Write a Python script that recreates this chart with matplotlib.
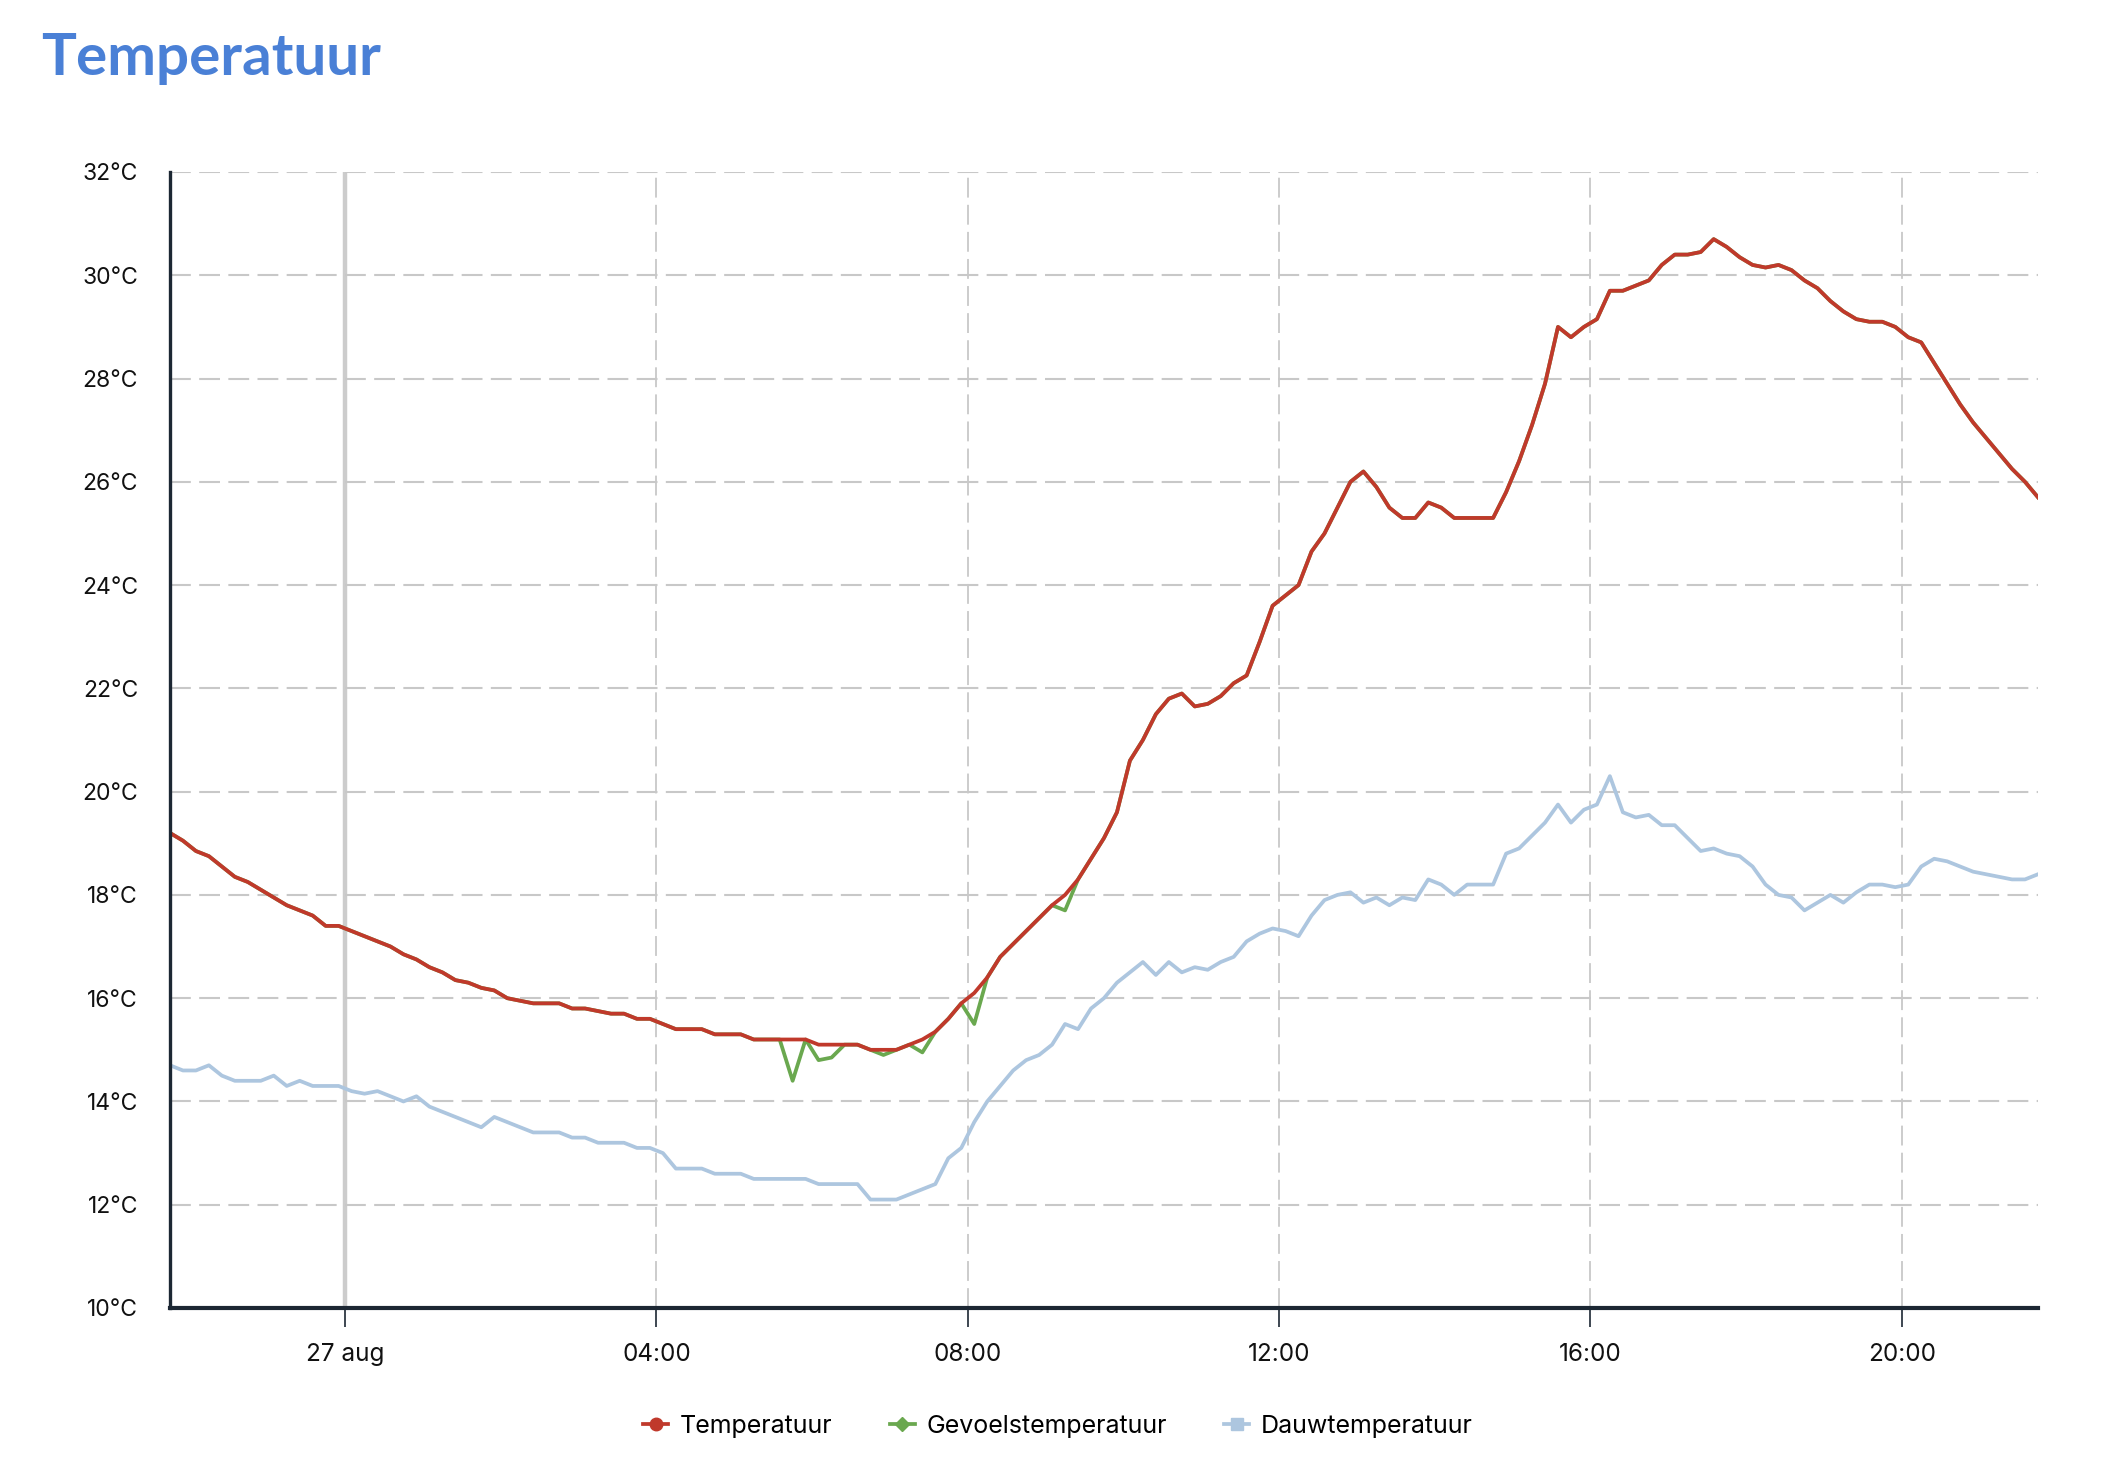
import numpy as np
import pandas as pd
import matplotlib
matplotlib.use("Agg")
import matplotlib.pyplot as plt
from matplotlib.lines import Line2D

# metingen elke 10 minuten, 26 aug 21:45 t/m 27 aug 21:45
start = "2024-08-26 21:45"
temperatuur = [
    19.2, 19.05, 18.85, 18.75, 18.55, 18.35, 18.25, 18.1, 17.95, 17.8,
    17.7, 17.6, 17.4, 17.4, 17.3, 17.2, 17.1, 17.0, 16.85, 16.75,
    16.6, 16.5, 16.35, 16.3, 16.2, 16.15, 16.0, 15.95, 15.9, 15.9,
    15.9, 15.8, 15.8, 15.75, 15.7, 15.7, 15.6, 15.6, 15.5, 15.4,
    15.4, 15.4, 15.3, 15.3, 15.3, 15.2, 15.2, 15.2, 15.2, 15.2,
    15.1, 15.1, 15.1, 15.1, 15.0, 15.0, 15.0, 15.1, 15.2, 15.35,
    15.6, 15.9, 16.1, 16.4, 16.8, 17.05, 17.3, 17.55, 17.8, 18.0,
    18.3, 18.7, 19.1, 19.6, 20.6, 21.0, 21.5, 21.8, 21.9, 21.65,
    21.7, 21.85, 22.1, 22.25, 22.9, 23.6, 23.8, 24.0, 24.65, 25.0,
    25.5, 26.0, 26.2, 25.9, 25.5, 25.3, 25.3, 25.6, 25.5, 25.3,
    25.3, 25.3, 25.3, 25.8, 26.4, 27.1, 27.9, 29.0, 28.8, 29.0,
    29.15, 29.7, 29.7, 29.8, 29.9, 30.2, 30.4, 30.4, 30.45, 30.7,
    30.55, 30.35, 30.2, 30.15, 30.2, 30.1, 29.9, 29.75, 29.5, 29.3,
    29.15, 29.1, 29.1, 29.0, 28.8, 28.7, 28.3, 27.9, 27.5, 27.15,
    26.85, 26.55, 26.25, 26.0, 25.7,
]
dauwtemperatuur = [
    14.7, 14.6, 14.6, 14.7, 14.5, 14.4, 14.4, 14.4, 14.5, 14.3,
    14.4, 14.3, 14.3, 14.3, 14.2, 14.15, 14.2, 14.1, 14.0, 14.1,
    13.9, 13.8, 13.7, 13.6, 13.5, 13.7, 13.6, 13.5, 13.4, 13.4,
    13.4, 13.3, 13.3, 13.2, 13.2, 13.2, 13.1, 13.1, 13.0, 12.7,
    12.7, 12.7, 12.6, 12.6, 12.6, 12.5, 12.5, 12.5, 12.5, 12.5,
    12.4, 12.4, 12.4, 12.4, 12.1, 12.1, 12.1, 12.2, 12.3, 12.4,
    12.9, 13.1, 13.6, 14.0, 14.3, 14.6, 14.8, 14.9, 15.1, 15.5,
    15.4, 15.8, 16.0, 16.3, 16.5, 16.7, 16.45, 16.7, 16.5, 16.6,
    16.55, 16.7, 16.8, 17.1, 17.25, 17.35, 17.3, 17.2, 17.6, 17.9,
    18.0, 18.05, 17.85, 17.95, 17.8, 17.95, 17.9, 18.3, 18.2, 18.0,
    18.2, 18.2, 18.2, 18.8, 18.9, 19.15, 19.4, 19.75, 19.4, 19.65,
    19.75, 20.3, 19.6, 19.5, 19.55, 19.35, 19.35, 19.1, 18.85, 18.9,
    18.8, 18.75, 18.55, 18.2, 18.0, 17.95, 17.7, 17.85, 18.0, 17.85,
    18.05, 18.2, 18.2, 18.15, 18.2, 18.55, 18.7, 18.65, 18.55, 18.45,
    18.4, 18.35, 18.3, 18.3, 18.4,
]
# gevoelstemperatuur gelijk aan temperatuur, behalve op deze momenten
gevoel_afwijkingen = {
    "2024-08-27 05:45": 14.4,
    "2024-08-27 06:05": 14.8,
    "2024-08-27 06:15": 14.85,
    "2024-08-27 06:55": 14.9,
    "2024-08-27 07:25": 14.95,
    "2024-08-27 08:05": 15.5,
    "2024-08-27 09:15": 17.7,
}

tijden = pd.date_range(start, periods=len(temperatuur), freq="10min")
gevoel = pd.Series(temperatuur, index=tijden)
for t, v in gevoel_afwijkingen.items():
    gevoel[pd.Timestamp(t)] = v

rood = "#c0392b"
groen = "#6aa84f"
blauw = "#adc6df"
donker = "#1c2733"

plt.rcParams["font.family"] = ["Inter", "DejaVu Sans"]

fig = plt.figure(figsize=(21.22, 14.84), dpi=100)
ax = fig.add_axes([0.0801, 0.1186, 0.8803, 0.7655])

ax.plot(tijden, temperatuur, color=rood, lw=2.7, zorder=5)
ax.plot(tijden, gevoel.values, color=groen, lw=2.7, zorder=4)
ax.plot(tijden, dauwtemperatuur, color=blauw, lw=2.7, zorder=3)

ax.set_xlim(pd.Timestamp("2024-08-26 21:45"), pd.Timestamp("2024-08-27 21:45"))
ax.set_ylim(10, 32)
ax.set_yticks(np.arange(10, 33, 2))
ax.set_yticklabels([f"{v}°C" for v in range(10, 33, 2)])

xt = pd.date_range("2024-08-27 00:00", "2024-08-27 20:00", freq="4h")
ax.set_xticks(xt)
ax.set_xticklabels(["27 aug"] + [t.strftime("%H:%M") for t in xt[1:]])

ax.grid(axis="y", color="#c8c8c8", lw=1.5, linestyle=(0, (10, 4)), zorder=1)
for t in xt[1:]:
    ax.axvline(t, color="#c8c8c8", lw=1.3, linestyle=(0, (11, 4)), zorder=1)
ax.axvline(xt[0], color="#cccccc", lw=3.2, zorder=1)

for s in ["top", "right"]:
    ax.spines[s].set_visible(False)
ax.spines["left"].set_color(donker)
ax.spines["left"].set_linewidth(2.4)
ax.spines["bottom"].set_color(donker)
ax.spines["bottom"].set_linewidth(3.0)
ax.spines["left"].set_zorder(6)
ax.spines["bottom"].set_zorder(6)

ax.tick_params(axis="y", length=0, pad=23, labelsize=16.5, labelcolor="#111111")
ax.tick_params(axis="x", length=14, width=1.2, color=donker, pad=11,
               labelsize=17.5, labelcolor="#111111")

fig.text(0.0193, 0.9495, "Temperatuur", fontsize=42, fontweight="bold",
         color="#4a80d6", family=["Lato", "DejaVu Sans"], va="baseline")

handles = [
    Line2D([], [], color=rood, lw=2.7, marker="o", markersize=9),
    Line2D([], [], color=groen, lw=2.7, marker="D", markersize=7.5),
    Line2D([], [], color=blauw, lw=2.7, marker="s", markersize=8.5),
]
fig.legend(handles, ["Temperatuur", "Gevoelstemperatuur", "Dauwtemperatuur"],
           loc="center", bbox_to_anchor=(0.4985, 0.039), ncol=3, frameon=False,
           fontsize=18, handlelength=1.0, handletextpad=0.45, columnspacing=2.3)

fig.savefig("out.png", dpi=100)
